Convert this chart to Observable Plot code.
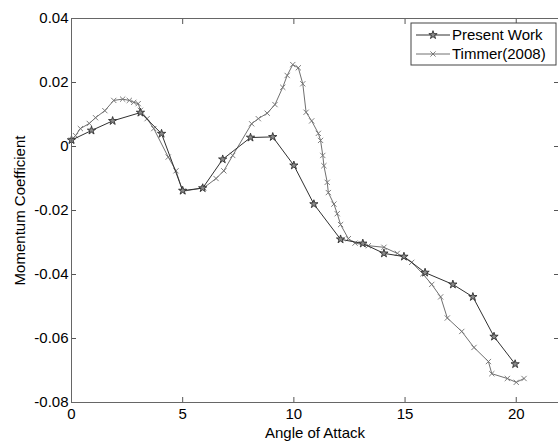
<!DOCTYPE html>
<html><head><meta charset="utf-8">
<script src="https://cdn.jsdelivr.net/npm/d3@7"></script>
<script src="https://cdn.jsdelivr.net/npm/@observablehq/plot@0.6"></script>
<style>body{margin:0;background:#fff}#chart{width:558px;height:445px}</style>
</head><body><div id="chart"></div>
<script>
const seriesNames = ["Present Work", "Timmer(2008)"];
const presentAngle = [0, 0.9, 1.85, 3.1, 4.05, 5, 5.9, 6.8, 8.05, 9.05, 10, 10.9, 12.1, 13.1, 14.05, 14.95, 15.9, 17.15, 18.05, 19, 19.95];
const presentCoef = [0.002, 0.005, 0.008, 0.0106, 0.004, -0.0138, -0.013, -0.004, 0.0028, 0.003, -0.0059, -0.018, -0.029, -0.0303, -0.0334, -0.0344, -0.0394, -0.0431, -0.047, -0.0594, -0.068];
const timmerAngle = [0, 0.18, 0.4, 0.8, 1.08, 1.5, 1.9, 2.3, 2.6, 2.8, 3.0, 3.1, 3.4, 3.7, 4.35, 4.7, 5.0, 5.95, 6.5, 6.85, 7.25, 8.1, 8.4, 8.8, 9.15, 9.5, 9.7, 9.95, 10.2, 10.4, 10.55, 10.8, 11.1, 11.2, 11.3, 11.35, 11.5, 11.55, 11.8, 11.95, 12.1, 12.45, 12.75, 13.35, 14.05, 14.65, 15.3, 15.8, 16.2, 16.6, 16.9, 17.55, 18.1, 18.75, 18.9, 19.6, 20.0, 20.35];
const timmerCoef = [0.002, 0.0034, 0.0056, 0.0072, 0.009, 0.0112, 0.0144, 0.0148, 0.0144, 0.0138, 0.0134, 0.0113, 0.0087, 0.0056, -0.0033, -0.0076, -0.014, -0.0129, -0.010, -0.0076, -0.0028, 0.0071, 0.0087, 0.0104, 0.0131, 0.0185, 0.0222, 0.0256, 0.0246, 0.0196, 0.0107, 0.008, 0.0041, 0.0019, -0.0028, -0.006, -0.0112, -0.0144, -0.018, -0.021, -0.0244, -0.0288, -0.0302, -0.031, -0.0315, -0.0334, -0.0362, -0.0398, -0.0431, -0.047, -0.0536, -0.0578, -0.0628, -0.0672, -0.071, -0.0725, -0.0737, -0.0725];
const xTicks = [0, 5, 10, 15, 20];
const xTickLabels = ["0", "5", "10", "15", "20"];
const yTicks = [-0.08, -0.06, -0.04, -0.02, 0, 0.02, 0.04];
const yTickLabels = ["-0.08", "-0.06", "-0.04", "-0.02", "0", "0.02", "0.04"];
const xTitle = "Angle of Attack";
const yTitle = "Momentum Coefficient";

const present = presentAngle.map((a, i) => ({a, c: presentCoef[i]}));
const timmer = timmerAngle.map((a, i) => ({a, c: timmerCoef[i]}));
const presentColor = "#303030", timmerColor = "#707070";
const starFill = "#8a8a8a";

const plot = Plot.plot({
  width: 558, height: 445,
  marginLeft: 71, marginRight: 0, marginTop: 18, marginBottom: 43,
  x: {domain: [0, 21.9], label: null},
  y: {domain: [-0.08, 0.04], label: null},
  style: {fontFamily: "'Liberation Sans', Arial, sans-serif", fontSize: "15px", color: "#000", background: "#fff"},
  marks: [
    Plot.line(timmer, {x: "a", y: "c", stroke: timmerColor, strokeWidth: 1}),
    Plot.dot(timmer, {x: "a", y: "c", symbol: "times", r: 2.5, stroke: timmerColor, strokeWidth: 0.9}),
    Plot.line(present, {x: "a", y: "c", stroke: presentColor, strokeWidth: 1}),
    Plot.dot(present, {x: "a", y: "c", symbol: "star", r: 2.6, stroke: presentColor, fill: starFill, strokeWidth: 0.9}),
    Plot.axisX(xTicks, {anchor: "bottom", tickSize: -5, tickFormat: () => "", stroke: "#555"}),
    Plot.axisX(xTicks, {anchor: "top", tickSize: -5, tickFormat: () => "", stroke: "#555"}),
    Plot.axisY(yTicks, {anchor: "left", tickSize: -5, tickFormat: () => "", stroke: "#555"}),
    Plot.axisY(yTicks, {anchor: "right", tickSize: -5, tickFormat: () => "", stroke: "#555"}),
    Plot.axisX(xTicks, {anchor: "bottom", tickSize: 0, tickPadding: 6, fontSize: 15, tickFormat: d => xTickLabels[xTicks.indexOf(d)]}),
    Plot.axisY(yTicks, {anchor: "left", tickSize: 0, tickPadding: 3, fontSize: 15, tickFormat: d => yTickLabels[yTicks.indexOf(d)]}),
    Plot.frame({stroke: "#666"}),
    Plot.text([xTitle], {frameAnchor: "bottom", dy: 31, text: d => d, textAnchor: "middle", lineAnchor: "middle", fontSize: 15}),
    Plot.text([yTitle], {frameAnchor: "left", dx: -51, rotate: -90, text: d => d, textAnchor: "middle", lineAnchor: "middle", fontSize: 15})
  ]
});
document.getElementById("chart").appendChild(plot);

// legend inside the frame, top-right
const svg = d3.select(plot);
const lg = svg.append("g").attr("transform", "translate(411,23)");
lg.append("rect").attr("width", 145).attr("height", 42).attr("fill", "#fff").attr("stroke", "#444");
const entries = [
  {name: seriesNames[0], color: presentColor, sym: d3.symbolStar, fill: starFill, size: Math.PI * 2.6 * 2.6},
  {name: seriesNames[1], color: timmerColor, sym: d3.symbolTimes, fill: "none", size: Math.PI * 2.5 * 2.5}
];
entries.forEach((e, i) => {
  const y = 12 + i * 19;
  lg.append("line").attr("x1", 5).attr("x2", 39).attr("y1", y).attr("y2", y).attr("stroke", e.color);
  lg.append("path").attr("d", d3.symbol(e.sym, e.size)()).attr("transform", `translate(22,${y})`)
    .attr("stroke", e.color).attr("fill", e.fill).attr("stroke-width", 0.9);
  lg.append("text").attr("x", 41).attr("y", y).attr("dy", "0.35em").attr("font-size", 15)
    .attr("text-anchor", "start").attr("fill", "#000").text(e.name);
});
</script>
</body></html>
